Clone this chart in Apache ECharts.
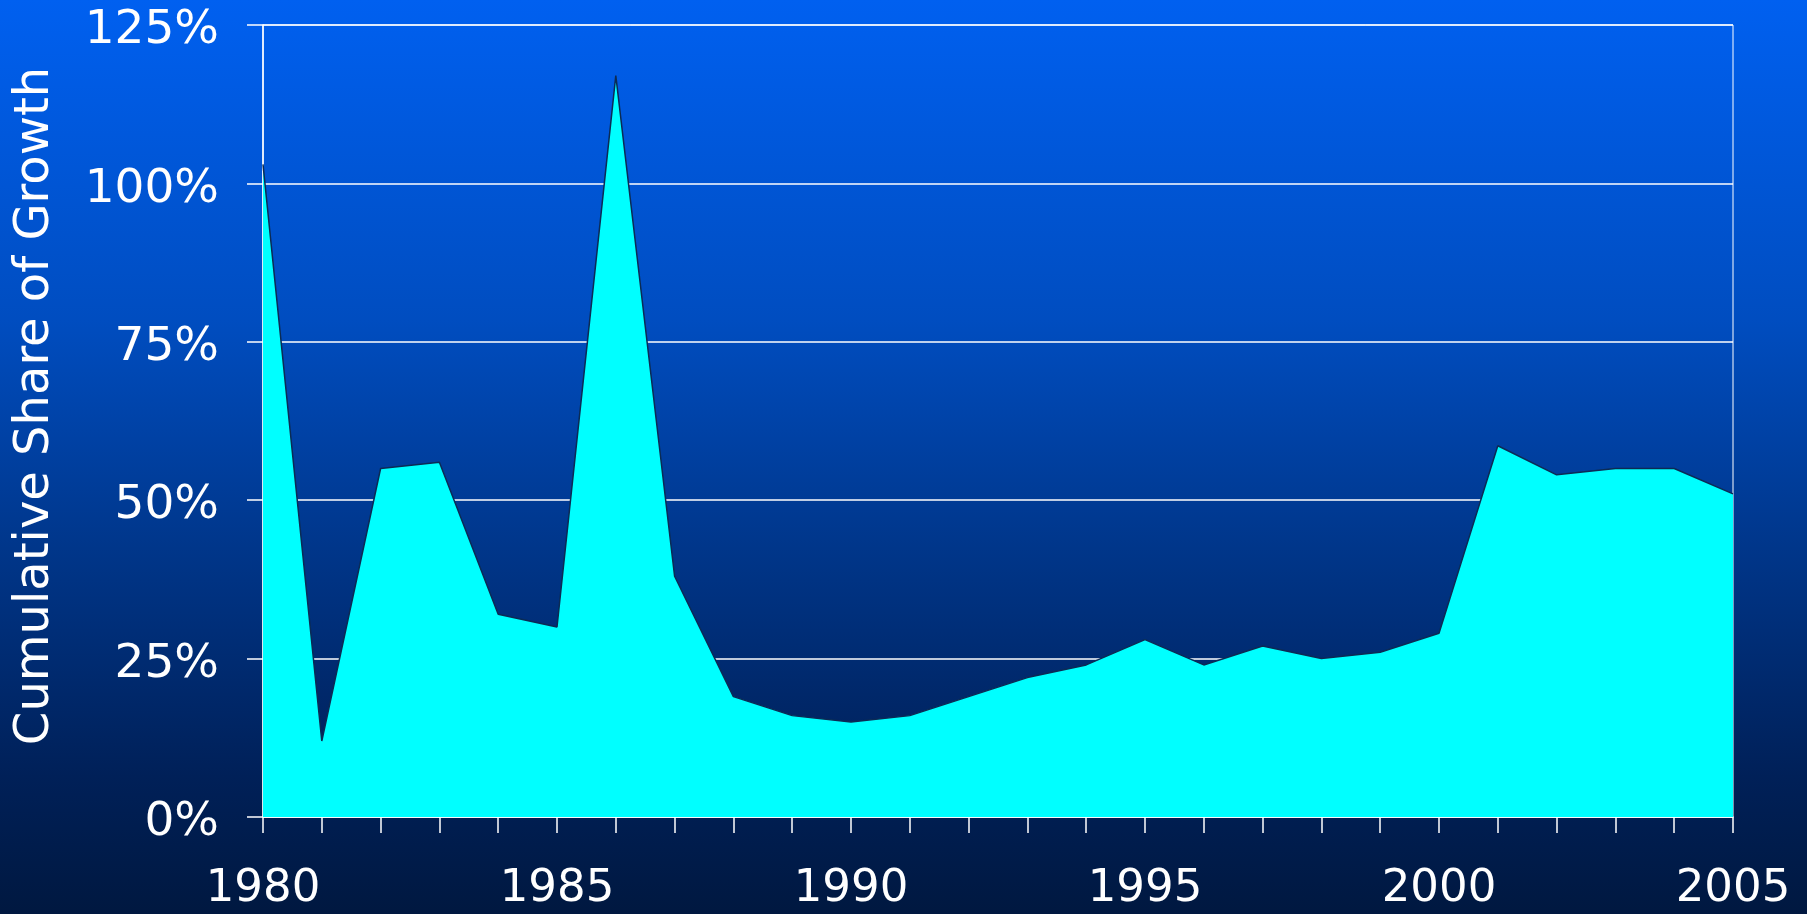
<!DOCTYPE html>
<html>
<head>
<meta charset="utf-8">
<title>Cumulative Share of Growth</title>
<script src="https://cdn.jsdelivr.net/npm/echarts@6/dist/echarts.min.js"></script>
<style>
  html, body { margin: 0; padding: 0; }
  #chart { width: 1807px; height: 914px; }
</style>
</head>
<body>
<div id="chart"></div>
<script>
const years = ['1980', '1981', '1982', '1983', '1984', '1985', '1986', '1987', '1988', '1989',
  '1990', '1991', '1992', '1993', '1994', '1995', '1996', '1997', '1998', '1999',
  '2000', '2001', '2002', '2003', '2004', '2005']
// cumulative share of growth, percent
const shareValues = [103, 12, 55, 56, 32, 30, 117, 38, 19, 16,
  15, 16, 19, 22, 24, 28, 24, 27, 25, 26,
  29, 58.6, 54, 55, 55, 51]
const yTicks = [0, 25, 50, 75, 100, 125]

const chart = echarts.init(document.getElementById('chart'))

const textFont = 'DejaVu Sans, Verdana, sans-serif'

chart.setOption({
  backgroundColor: new echarts.graphic.LinearGradient(0, 0, 0, 1, [
    { offset: 0, color: '#0060f0' },
    { offset: 0.35, color: '#004dc0' },
    { offset: 0.6, color: '#00368a' },
    { offset: 0.85, color: '#002058' },
    { offset: 1, color: '#001840' }
  ]),
  animation: false,
  grid: {
    left: 263,
    right: 74,
    top: 25,
    bottom: 97,
    show: true,
    borderColor: '#ffffff',
    borderWidth: 1
  },
  xAxis: {
    type: 'category',
    data: years,
    boundaryGap: false,
    axisLine: { lineStyle: { color: '#ffffff', width: 1.5 } },
    axisTick: {
      interval: 0,
      length: 16,
      lineStyle: { color: '#ffffff', width: 1.5 }
    },
    axisLabel: {
      interval: 4,
      color: '#ffffff',
      fontFamily: textFont,
      fontSize: 45,
      margin: 50
    },
    splitLine: { show: false }
  },
  yAxis: {
    type: 'value',
    min: yTicks[0],
    max: yTicks[yTicks.length - 1],
    interval: 25,
    name: 'Cumulative Share of Growth',
    nameLocation: 'middle',
    nameGap: 203,
    nameTextStyle: {
      color: '#ffffff',
      fontFamily: textFont,
      fontSize: 48,
      padding: [0, 0, 0, 30]
    },
    axisLine: { show: true, lineStyle: { color: '#ffffff', width: 1.5 } },
    axisTick: {
      show: true,
      length: 16,
      lineStyle: { color: '#ffffff', width: 1.5 }
    },
    axisLabel: {
      color: '#ffffff',
      fontFamily: textFont,
      fontSize: 47,
      margin: 44,
      verticalAlign: 'top',
      lineHeight: 12,
      formatter: '{value}%'
    },
    splitLine: { lineStyle: { color: '#ffffff', width: 1.5 } }
  },
  series: [{
    type: 'line',
    data: shareValues,
    showSymbol: false,
    lineStyle: { color: '#0b2b55', width: 1.5 },
    areaStyle: { color: '#00ffff', opacity: 1 }
  }]
})
</script>
</body>
</html>
